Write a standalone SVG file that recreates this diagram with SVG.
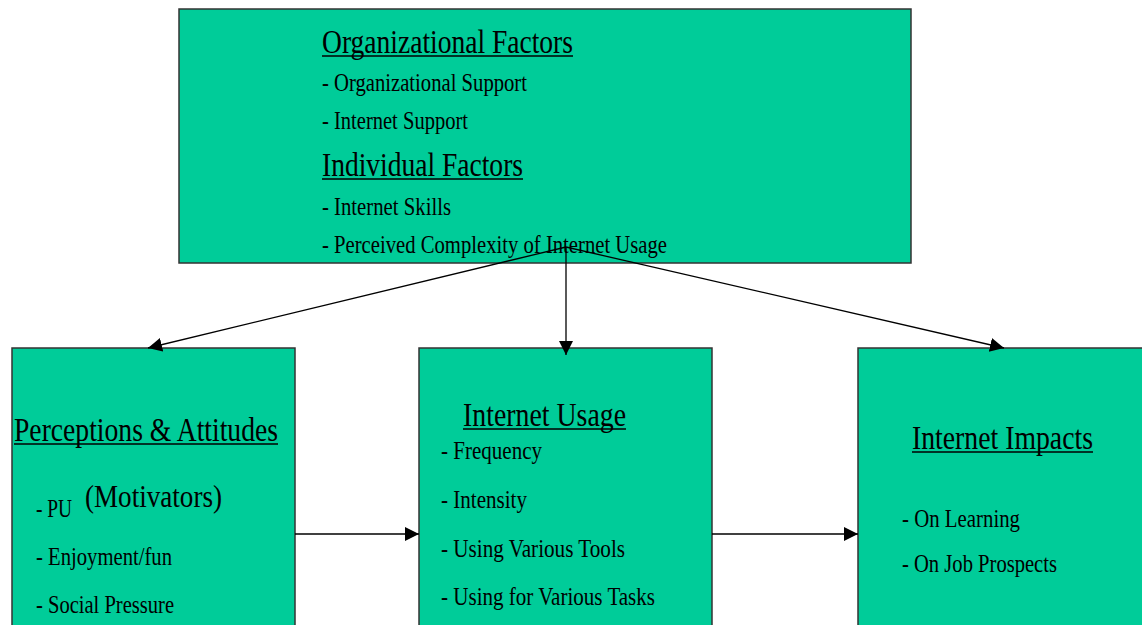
<svg xmlns="http://www.w3.org/2000/svg" width="1142" height="625" viewBox="0 0 1142 625">
<style>
.box{fill:#00CC99;stroke:#333333;stroke-width:1.5}
.h{font-family:"Liberation Serif","Times New Roman",serif;font-size:34px;fill:#000}
.t{font-family:"Liberation Serif","Times New Roman",serif;font-size:26px;fill:#000}
.m{font-family:"Liberation Serif","Times New Roman",serif;font-size:31px;fill:#000}
.u{stroke:#000;stroke-width:1.6}
.c{stroke:#000;stroke-width:1.3;fill:none;marker-end:url(#ah)}
</style>
<defs>
<marker id="ah" markerUnits="userSpaceOnUse" markerWidth="16" markerHeight="16" refX="14" refY="7" orient="auto">
<path d="M0,0 L14,7 L0,14 z" fill="#000"/>
</marker>
</defs>
<g id="top">
<rect class="box" x="179" y="9" width="732" height="254"/>
<text class="h" x="322" y="53" textLength="251" lengthAdjust="spacingAndGlyphs">Organizational Factors</text>
<line class="u" x1="322" y1="56" x2="573" y2="56"/>
<text class="t" x="322" y="91" textLength="205" lengthAdjust="spacingAndGlyphs">- Organizational Support</text>
<text class="t" x="322" y="129" textLength="146" lengthAdjust="spacingAndGlyphs">- Internet Support</text>
<text class="h" x="322" y="176" textLength="201" lengthAdjust="spacingAndGlyphs">Individual Factors</text>
<line class="u" x1="322" y1="179" x2="523" y2="179"/>
<text class="t" x="322" y="215" textLength="129" lengthAdjust="spacingAndGlyphs">- Internet Skills</text>
<text class="t" x="322" y="253" textLength="345" lengthAdjust="spacingAndGlyphs">- Perceived Complexity of Internet Usage</text>
</g>
<g id="perceptions">
<rect class="box" x="12" y="348" width="283" height="290"/>
<text class="h" x="14" y="441" textLength="264" lengthAdjust="spacingAndGlyphs">Perceptions &amp; Attitudes</text>
<line class="u" x1="14" y1="444" x2="278" y2="444"/>
<text class="t" x="36" y="517" textLength="36" lengthAdjust="spacingAndGlyphs">- PU</text>
<text class="m" x="85" y="507" textLength="137" lengthAdjust="spacingAndGlyphs">(Motivators)</text>
<text class="t" x="36" y="565" textLength="136" lengthAdjust="spacingAndGlyphs">- Enjoyment/fun</text>
<text class="t" x="36" y="613" textLength="138" lengthAdjust="spacingAndGlyphs">- Social Pressure</text>
</g>
<g id="usage">
<rect class="box" x="419" y="348" width="293" height="290"/>
<text class="h" x="463" y="426" textLength="163" lengthAdjust="spacingAndGlyphs">Internet Usage</text>
<line class="u" x1="463" y1="429" x2="626" y2="429"/>
<text class="t" x="441" y="459" textLength="101" lengthAdjust="spacingAndGlyphs">- Frequency</text>
<text class="t" x="441" y="508" textLength="86" lengthAdjust="spacingAndGlyphs">- Intensity</text>
<text class="t" x="441" y="557" textLength="184" lengthAdjust="spacingAndGlyphs">- Using Various Tools</text>
<text class="t" x="441" y="605" textLength="214" lengthAdjust="spacingAndGlyphs">- Using for Various Tasks</text>
</g>
<g id="impacts">
<rect class="box" x="858" y="348" width="290" height="290"/>
<text class="h" x="912" y="449" textLength="181" lengthAdjust="spacingAndGlyphs">Internet Impacts</text>
<line class="u" x1="912" y1="452" x2="1093" y2="452"/>
<text class="t" x="902" y="527" textLength="118" lengthAdjust="spacingAndGlyphs">- On Learning</text>
<text class="t" x="902" y="572" textLength="155" lengthAdjust="spacingAndGlyphs">- On Job Prospects</text>
</g>
<g id="connectors">
<line class="c" x1="566" y1="247" x2="148" y2="348"/>
<line class="c" x1="566" y1="247" x2="566" y2="355"/>
<line class="c" x1="566" y1="247" x2="1004" y2="348"/>
<line class="c" x1="295" y1="534" x2="419" y2="534"/>
<line class="c" x1="712" y1="534" x2="858" y2="534"/>
</g>
</svg>
